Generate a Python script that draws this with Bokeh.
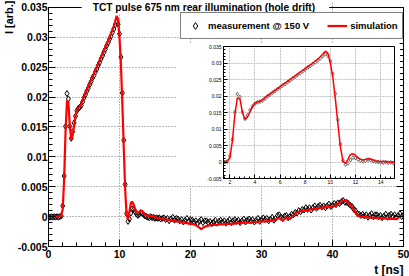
import numpy as np
from bokeh.plotting import figure
from bokeh.layouts import column
from bokeh.models import (Range1d, LinearAxis, Label, Legend, LegendItem, FixedTicker,
                          CustomJSTickFormatter, Title, Span)
from bokeh.embed import file_html
from bokeh.resources import INLINE

FONT = "Liberation Sans"

# ---------------- data ----------------
# time samples [ns]
t_fast = [round(0.2 * i, 1) for i in range(81)]                 # 0 .. 16 ns
t_meas_slow = [round(16.25 + 0.25 * i, 2) for i in range(136)]  # 16.25 .. 50 ns
t_sim_slow = [round(16.5 + 0.5 * i, 1) for i in range(68)]      # 16.5 .. 50 ns

meas_fast = [
    0.0000, -0.0001, 0.0000, -0.0001, 0.0000, -0.0001, 0.0000, -0.0001, 0.0000, 0.0001,
    0.0018, 0.0068, 0.0151, 0.0206, 0.0197, 0.0151, 0.0131, 0.0142, 0.0157, 0.0168,
    0.0177, 0.0181, 0.0183, 0.0186, 0.0192, 0.0199, 0.0204, 0.0210, 0.0215, 0.0221,
    0.0226, 0.0232, 0.0236, 0.0242, 0.0247, 0.0253, 0.0258, 0.0264, 0.0269, 0.0275,
    0.0280, 0.0286, 0.0291, 0.0297, 0.0302, 0.0308, 0.0314, 0.0321, 0.0327, 0.0322,
    0.0306, 0.0267, 0.0207, 0.0128, 0.0054, 0.0005, -0.0008, -0.0004, 0.0006, 0.0013,
    0.0012, 0.0008, 0.0004, 0.0002, 0.0004, 0.0007, 0.0006, 0.0003, 0.0001, 0.0000,
    -0.0001, -0.0002, 0.0000, -0.0002, -0.0001, -0.0003, -0.0002, -0.0003, -0.0002, -0.0004,
    -0.0003,
]
meas_slow = [
    -0.0002, -0.0005, -0.0003, -0.0007, -0.0004, -0.0001, -0.0006, -0.0003,
    -0.0004, -0.0007, -0.0005, -0.0009, -0.0006, -0.0003, -0.0008, -0.0005,
    -0.0006, -0.0009, -0.0007, -0.0011, -0.0008, -0.0005, -0.0010, -0.0007,
    -0.0007, -0.0010, -0.0008, -0.0012, -0.0009, -0.0006, -0.0011, -0.0008,
    -0.0006, -0.0009, -0.0007, -0.0011, -0.0008, -0.0005, -0.0010, -0.0007,
    -0.0005, -0.0008, -0.0006, -0.0010, -0.0007, -0.0004, -0.0009, -0.0006,
    -0.0004, -0.0007, -0.0005, -0.0009, -0.0006, -0.0003, -0.0008, -0.0005,
    -0.0002, -0.0005, -0.0003, -0.0007, -0.0004, -0.0001, -0.0006, -0.0003,
    0.0002, 0.0003, -0.0001, -0.0003, 0.0001, 0.0002, -0.0002, 0.0000,
    0.0004, 0.0003, 0.0007, 0.0006, 0.0010, 0.0008, 0.0012, 0.0011,
    0.0015, 0.0012, 0.0015, 0.0011, 0.0015, 0.0018, 0.0014, 0.0017,
    0.0019, 0.0016, 0.0018, 0.0015, 0.0018, 0.0021, 0.0017, 0.0019,
    0.0022, 0.0020, 0.0023, 0.0022, 0.0025, 0.0027, 0.0024, 0.0024,
    0.0022, 0.0019, 0.0017, 0.0012, 0.0010, 0.0005, 0.0004, 0.0002,
    0.0004, 0.0001, 0.0003, -0.0001, 0.0002, 0.0005, 0.0000, 0.0003,
    0.0003, 0.0000, 0.0002, -0.0002, 0.0001, 0.0004, -0.0001, 0.0002,
    0.0004, 0.0001, 0.0003, -0.0001, 0.0002, 0.0005, 0.0000, 0.0003,
]

sim_fast = [
    0.0000, 0.0000, 0.0000, 0.0000, 0.0000, 0.0000, 0.0000, 0.0000, 0.0001, 0.0003,
    0.0012, 0.0062, 0.0142, 0.0194, 0.0192, 0.0152, 0.0129, 0.0136, 0.0152, 0.0168,
    0.0178, 0.0182, 0.0184, 0.0188, 0.0195, 0.0201, 0.0206, 0.0212, 0.0217, 0.0223,
    0.0228, 0.0234, 0.0239, 0.0245, 0.0250, 0.0256, 0.0261, 0.0267, 0.0272, 0.0278,
    0.0283, 0.0289, 0.0294, 0.0300, 0.0306, 0.0312, 0.0319, 0.0327, 0.0336, 0.0330,
    0.0300, 0.0255, 0.0190, 0.0115, 0.0045, 0.0002, -0.0004, 0.0008, 0.0023, 0.0025,
    0.0020, 0.0013, 0.0008, 0.0006, 0.0008, 0.0010, 0.0009, 0.0006, 0.0003, 0.0002,
    0.0001, 0.0002, 0.0001, 0.0000, 0.0000, -0.0001, -0.0002, -0.0002, -0.0003, -0.0003,
    -0.0004,
]
sim_slow = [
    -0.0005, -0.0006, -0.0007, -0.0008, -0.0009, -0.0010, -0.0011, -0.0012, -0.0013, -0.0016,
    -0.0021, -0.0017, -0.0015, -0.0014, -0.0014, -0.0013, -0.0013, -0.0012, -0.0012, -0.0012,
    -0.0011, -0.0011, -0.0010, -0.0010, -0.0010, -0.0009, -0.0009, -0.0008, -0.0008, -0.0007,
    -0.0007, -0.0005, -0.0002, -0.0007, -0.0001, -0.0004, 0.0002, 0.0007, 0.0009, 0.0010,
    0.0011, 0.0012, 0.0013, 0.0014, 0.0015, 0.0016, 0.0016, 0.0017, 0.0019, 0.0023,
    0.0027, 0.0026, 0.0020, 0.0011, 0.0002, 0.0000, -0.0001, -0.0001, -0.0002, -0.0002,
    -0.0003, -0.0003, -0.0003, -0.0004, -0.0004, -0.0004, 0.0000, 0.0002,
]

t_meas = t_fast + t_meas_slow
measurement = meas_fast + meas_slow
t_sim = t_fast + t_sim_slow
simulation = sim_fast + sim_slow

title_text = "TCT pulse 675 nm rear illumination (hole drift)"
x_title = "t [ns]"
y_title = "I [arb.]"
legend_labels = ["measurement @ 150 V", "simulation"]

y_major = [-0.005, 0.0, 0.005, 0.01, 0.015, 0.02, 0.025, 0.03, 0.035]
y_minor = [round(-0.005 + 0.001 * i, 3) for i in range(41)]
x_major_main = [0, 10, 20, 30, 40, 50]
x_minor_main = [2 * i for i in range(26)]
x_major_inset = [2, 4, 6, 8, 10, 12, 14]
x_minor_inset = [round(1.6 + 0.4 * i, 1) for i in range(34)]

Y_LO, Y_HI = -0.005, 0.035
Y_TOP_ROOM = 0.00117   # room above the top of the axis, where the title box sits

yfmt_code = """
let s = tick.toFixed(3);
if (s.indexOf('.') >= 0) { s = s.replace(/0+$/, '').replace(/\\.$/, ''); }
if (s == '-0') { s = '0'; }
return s;
"""

W, H = 409, 276

# ---------------- main figure ----------------
p = figure(width=W, height=H, x_range=Range1d(0, 50), y_range=Range1d(Y_LO, Y_HI + Y_TOP_ROOM),
           output_backend="svg", toolbar_location=None,
           min_border_left=41, min_border_right=6, min_border_top=0, min_border_bottom=28)
p.outline_line_color = None
p.background_fill_color = "white"
p.border_fill_color = "white"


def style_axis(ax, size="10.5px", bold=True, tin=7, mtin=4):
    ax.major_tick_in = tin
    ax.major_tick_out = 0
    ax.minor_tick_in = mtin
    ax.minor_tick_out = 0
    ax.axis_line_color = "black"
    ax.major_tick_line_color = "black"
    ax.minor_tick_line_color = "black"
    ax.major_label_text_font = FONT
    ax.major_label_text_font_style = "bold" if bold else "normal"
    ax.major_label_text_font_size = size
    ax.major_label_text_color = "black"


p.xaxis.ticker = FixedTicker(ticks=x_major_main, minor_ticks=x_minor_main)
p.yaxis.ticker = FixedTicker(ticks=y_major, minor_ticks=y_minor)
p.yaxis.formatter = CustomJSTickFormatter(code=yfmt_code)
style_axis(p.xaxis[0])
style_axis(p.yaxis[0])
p.xaxis.major_label_standoff = 3
p.yaxis.major_label_standoff = 1
p.yaxis[0].bounds = (Y_LO, Y_HI)

raxis = LinearAxis(ticker=FixedTicker(ticks=y_major, minor_ticks=y_minor), bounds=(Y_LO, Y_HI))
style_axis(raxis)
raxis.major_label_text_color = None
raxis.major_label_standoff = 0
p.add_layout(raxis, "right")

for g in (p.xgrid[0], p.ygrid[0]):
    g.grid_line_color = "#777777"
    g.grid_line_dash = "1 2"
    g.grid_line_width = 1

# top edge of the axis box
p.add_layout(Span(location=Y_HI, dimension="width", line_color="black", line_width=1))

r_meas = p.scatter(t_meas, measurement, marker="diamond", size=6, fill_color=None,
                   line_color="black", line_width=1)
r_sim = p.line(t_sim, simulation, line_color="red", line_width=2.2)

legend = Legend(items=[LegendItem(label=legend_labels[0], renderers=[r_meas]),
                       LegendItem(label=legend_labels[1], renderers=[r_sim])],
                location=(132, 207), orientation="horizontal", padding=4, spacing=18,
                glyph_width=20, glyph_height=17, label_height=17, label_standoff=3,
                margin=0, border_line_color="black", border_line_width=1,
                background_fill_color="white", background_fill_alpha=1.0,
                label_text_font=FONT, label_text_font_style="bold",
                label_text_font_size="9.5px", label_text_color="black")
p.add_layout(legend)

# plot title: a white box on the top edge of the axis box
p.add_layout(Label(x=22.1, y=Y_HI, text=title_text, text_align="center",
                   text_baseline="middle", text_font=FONT, text_font_style="bold",
                   text_font_size="10.2px", text_color="black",
                   background_fill_color="white",
                   padding=dict(left=11, right=14, top=1, bottom=1)))

# axis titles at the ends of the axes
p.add_layout(Title(text=y_title, align="right", text_font=FONT, text_font_style="bold",
                   text_font_size="11px", text_color="black", standoff=0, offset=0),
             "left")
p.add_layout(Title(text=x_title, align="right", text_font=FONT, text_font_style="bold",
                   text_font_size="12px", text_color="black", standoff=0, offset=0),
             "below")

# ---------------- inset ----------------
ins = figure(width=225, height=143, x_range=Range1d(1.5, 15.1), y_range=Range1d(Y_LO, Y_HI),
             output_backend="svg", toolbar_location=None,
             min_border_left=24, min_border_right=3, min_border_top=3, min_border_bottom=7,
             styles={"position": "absolute", "left": "175px", "top": "43px"})
ins.outline_line_color = "black"
ins.xaxis.ticker = FixedTicker(ticks=x_major_inset, minor_ticks=x_minor_inset)
ins.yaxis.ticker = FixedTicker(ticks=y_major, minor_ticks=y_minor)
ins.yaxis.formatter = CustomJSTickFormatter(code=yfmt_code)
style_axis(ins.xaxis[0], size="5px", bold=False, tin=4, mtin=2)
style_axis(ins.yaxis[0], size="5px", bold=False, tin=4, mtin=2)
ins.xaxis.major_label_standoff = 1
ins.yaxis.major_label_standoff = 2
for g in (ins.xgrid[0], ins.ygrid[0]):
    g.grid_line_color = "#c0c0c0"
    g.grid_line_dash = "2 1"
    g.grid_line_width = 1

ins.scatter(t_meas, measurement, marker="diamond", size=4, fill_color=None,
            line_color="#555555", line_width=0.8)
ins.line(t_sim, simulation, line_color="red", line_width=1.5)

layout = column(p, ins)
open("out.html", "w").write(file_html(layout, INLINE))
